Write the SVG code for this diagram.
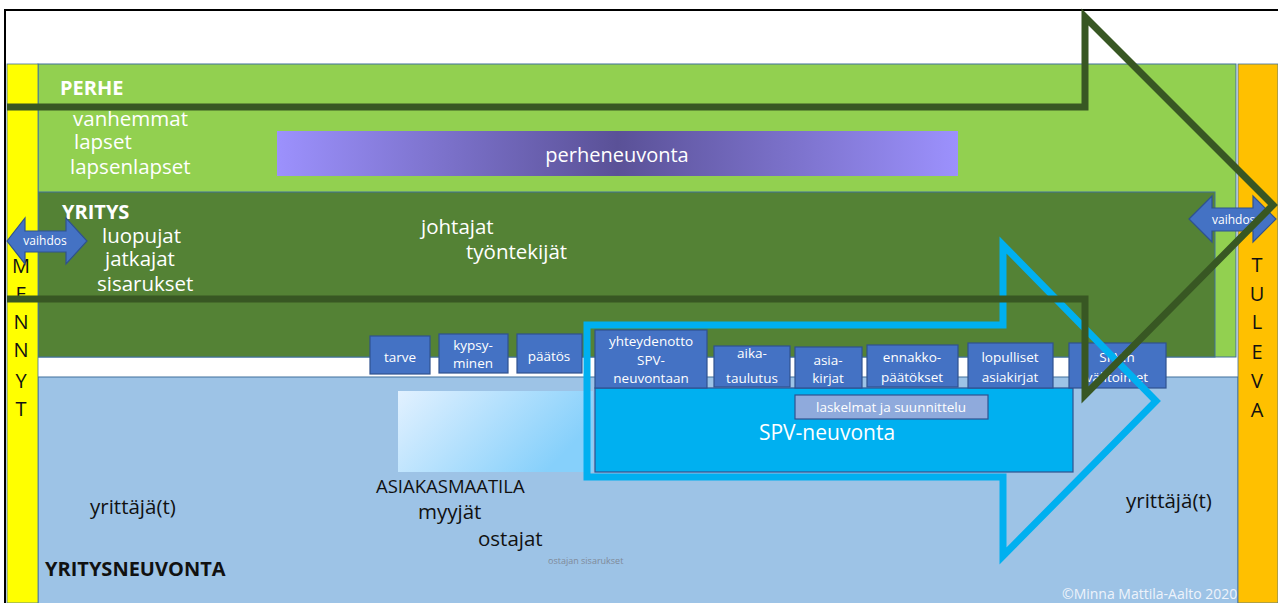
<svg xmlns="http://www.w3.org/2000/svg" width="1278" height="603" viewBox="0 0 1278 603">
<style>
text{font-family:"Open Sans","Noto Sans","Liberation Sans",sans-serif}
.w{fill:#ffffff}
.k{fill:#111111}
.lbl{font-size:20.5px}
.hd{font-size:20px;font-weight:bold}
.step rect{fill:#4472c4;stroke:#2f528f;stroke-width:1.2}
.step text{fill:#ffffff;font-size:13.5px;text-anchor:middle}
.strip{font-size:20px;text-anchor:middle;fill:#111111}
.vaih{fill:#4472c4;stroke:#2f528f;stroke-width:1.2}
.vt{fill:#ffffff;font-size:12px}
.arrow{fill:none;stroke-width:7;stroke-linejoin:miter;stroke-miterlimit:10}
</style>
<defs>
<linearGradient id="gPurple" x1="0" y1="0" x2="1" y2="0">
<stop offset="0" stop-color="#9c91fd"/>
<stop offset="0.5" stop-color="#5a5197"/>
<stop offset="1" stop-color="#9c91fd"/>
</linearGradient>
<linearGradient id="gAsiakas" x1="0" y1="0" x2="1" y2="0.4">
<stop offset="0" stop-color="#e2f1ff"/>
<stop offset="1" stop-color="#86d0fb"/>
</linearGradient>
</defs>
<rect x="0" y="0" width="1278" height="603" fill="#ffffff"/>
<g id="frame">
<polyline points="5,603 5,10 1278,10" fill="none" stroke="#000000" stroke-width="2"/>
</g>
<g id="perhe">
<rect x="38" y="64" width="1198" height="293" fill="#92d050" stroke="#41719c" stroke-width="1"/>
<text x="60" y="95" class="w hd">PERHE</text>
<text x="73" y="126" class="w lbl">vanhemmat</text>
<text x="74" y="149" class="w lbl">lapset</text>
<text x="70" y="174" class="w lbl">lapsenlapset</text>
</g>
<g id="perheneuvonta">
<rect x="277" y="131" width="681" height="45" fill="url(#gPurple)"/>
<text x="617" y="162" class="w" font-size="20" text-anchor="middle">perheneuvonta</text>
</g>
<g id="yritys">
<rect x="38" y="192" width="1177" height="165" fill="#548235" stroke="#41719c" stroke-width="1"/>
<text x="62" y="219" class="w hd">YRITYS</text>
<text x="102" y="243" class="w lbl">luopujat</text>
<text x="105" y="266" class="w lbl">jatkajat</text>
<text x="97" y="291" class="w lbl">sisarukset</text>
<text x="421" y="234" class="w lbl">johtajat</text>
<text x="466" y="259" class="w lbl">työntekijät</text>
</g>
<g id="yritysneuvonta">
<rect x="38" y="377" width="1200" height="230" fill="#9dc3e6" stroke="#41719c" stroke-width="1"/>
<text x="90" y="514" class="k lbl">yrittäjä(t)</text>
<text x="45" y="576" class="k hd">YRITYSNEUVONTA</text>
<text x="1126" y="508" class="k lbl">yrittäjä(t)</text>
<text x="1062" y="599" fill="#eef3fb" font-size="14">©Minna Mattila-Aalto 2020</text>
</g>
<g id="asiakasmaatila">
<rect x="398" y="391" width="195" height="81" fill="url(#gAsiakas)"/>
<text x="376" y="493" class="k" font-size="18.5">ASIAKASMAATILA</text>
<text x="418" y="519" class="k lbl">myyjät</text>
<text x="478" y="546" class="k lbl">ostajat</text>
<text x="548" y="564" fill="#7f8a99" font-size="9">ostajan sisarukset</text>
</g>
<g id="mennyt">
<rect x="7" y="64" width="31" height="539" fill="#ffff00" stroke="#41719c" stroke-width="0.8"/>
<g class="strip" style="font-family:'Liberation Sans',sans-serif">
<text x="21" y="273">M</text>
<text x="21" y="301">E</text>
<text x="21" y="329">N</text>
<text x="21" y="357">N</text>
<text x="21" y="388">Y</text>
<text x="21" y="416">T</text>
</g>
</g>
<g id="tuleva">
<rect x="1238" y="64" width="40" height="539" fill="#ffc000" stroke="#41719c" stroke-width="0.8"/>
<g class="strip">
<text x="1257" y="272">T</text>
<text x="1257" y="301">U</text>
<text x="1257" y="329">L</text>
<text x="1257" y="359">E</text>
<text x="1257" y="388">V</text>
<text x="1257" y="417">A</text>
</g>
</g>
<g id="spv-neuvonta">
<rect x="595" y="388" width="478" height="84" fill="#00b0f0" stroke="#2f528f" stroke-width="1.2"/>
<text x="827" y="440" class="w" font-size="21" text-anchor="middle">SPV-neuvonta</text>
</g>
<g id="laskelmat" class="step">
<rect x="795" y="395" width="193" height="24" style="fill:#8faadc"/>
<text x="891" y="412">laskelmat ja suunnittelu</text>
</g>
<g id="tarve" class="step">
<rect x="370" y="336" width="60" height="38"/>
<text x="400" y="362">tarve</text>
</g>
<g id="kypsyminen" class="step">
<rect x="439" y="334" width="69" height="39"/>
<text x="473" y="350">kypsy-</text>
<text x="473" y="368">minen</text>
</g>
<g id="paatos" class="step">
<rect x="517" y="334" width="65" height="39"/>
<text x="549" y="361">päätös</text>
</g>
<g id="yhteydenotto" class="step">
<rect x="595" y="330" width="112" height="58"/>
<text x="651" y="346">yhteydenotto</text>
<text x="651" y="365">SPV-</text>
<text x="651" y="383">neuvontaan</text>
</g>
<g id="aikataulutus" class="step">
<rect x="714" y="346" width="76" height="41"/>
<text x="752" y="358">aika-</text>
<text x="752" y="383">taulutus</text>
</g>
<g id="asiakirjat" class="step">
<rect x="795" y="347" width="67" height="41"/>
<text x="828" y="365">asia-</text>
<text x="828" y="383">kirjat</text>
</g>
<g id="ennakkopaatokset" class="step">
<rect x="867" y="345" width="91" height="42"/>
<text x="912" y="362">ennakko-</text>
<text x="912" y="382">päätökset</text>
</g>
<g id="lopulliset" class="step">
<rect x="968" y="343" width="85" height="45"/>
<text x="1010" y="362">lopulliset</text>
<text x="1010" y="382">asiakirjat</text>
</g>
<g id="valitoimet" class="step">
<rect x="1069" y="343" width="97" height="45"/>
<text x="1117" y="362">SPV:n</text>
<text x="1117" y="382">välitoimet</text>
</g>
<g id="vaihdos-left">
<polygon class="vaih" points="7,241 25,218 25,231 66,231 66,218 87,241 66,264 66,252 25,252 25,264"/>
<text x="45" y="245" class="vt" text-anchor="middle">vaihdos</text>
</g>
<g id="vaihdos-right">
<polygon class="vaih" points="1189,219 1212,196 1212,208 1253,208 1253,196 1276,219 1253,242 1253,231 1212,231 1212,242"/>
<text x="1212" y="224" class="vt">vaihdos</text>
</g>
<g id="connectors">
<polygon class="arrow" stroke="#00b0f0" points="587,325 1003,325 1003,245 1156,401 1003,556 1003,477 587,477"/>
<polyline class="arrow" stroke="#385723" points="7,107 1085,107 1085,17 1273,205 1085,395 1085,299 7,299"/>
</g>
</svg>
